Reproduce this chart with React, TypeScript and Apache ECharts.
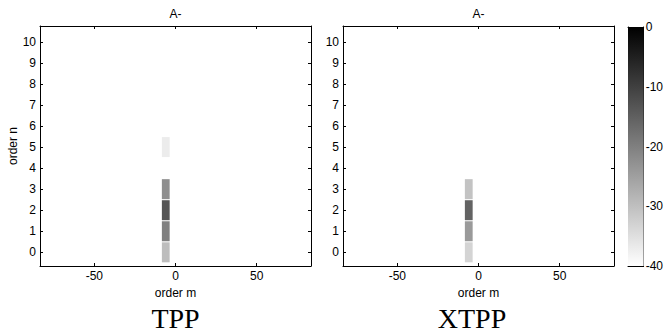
import React, { useEffect, useRef } from "react";
import * as echarts from "echarts";

// ---- data ----
const mTicks = [-50, 0, 50];
const nTicks = [0, 1, 2, 3, 4, 5, 6, 7, 8, 9, 10];
const colorbarTicksRange = [-40, 0];

const tppM = [-6, -6, -6, -6, -6];
const tppN = [0, 1, 2, 3, 5];
const tppValues = [-29.6, -20, -13.3, -22.3, -37];

const xtppM = [-6, -6, -6, -6];
const xtppN = [0, 1, 2, 3];
const xtppValues = [-33.2, -24.2, -15.5, -30.6];

const panelTitles = ["A-", "A-"];
const panelCaptions = ["TPP", "XTPP"];

// ---- layout constants ----
const M_MIN = -83.5;
const M_MAX = 83.5;
const N_MIN = -0.65;
const N_MAX = 10.75;
const CELL_W = 4.8;
const CELL_H = 0.95;

const SANS = "Liberation Sans, Arial, Helvetica, sans-serif";
const SERIF = "Liberation Serif, Times New Roman, serif";
const FS = 12;

function cellRender(params: any, api: any) {
  const m = api.value(0);
  const n = api.value(1);
  const p0 = api.coord([m - CELL_W / 2, n + CELL_H / 2]);
  const p1 = api.coord([m + CELL_W / 2, n - CELL_H / 2]);
  return {
    type: "rect",
    shape: { x: p0[0], y: p0[1], width: p1[0] - p0[0], height: p1[1] - p0[1] },
    style: { fill: api.visual("color") },
  };
}

function barRender(params: any, api: any) {
  const p0 = api.coord([0, colorbarTicksRange[1]]);
  const p1 = api.coord([1, colorbarTicksRange[0]]);
  return {
    type: "rect",
    shape: { x: p0[0], y: p0[1], width: p1[0] - p0[0], height: p1[1] - p0[1] },
    style: {
      fill: new echarts.graphic.LinearGradient(0, 0, 0, 1, [
        { offset: 0, color: "#000000" },
        { offset: 1, color: "#ffffff" },
      ]),
    },
  };
}

const axisLine = { show: true, onZero: false, lineStyle: { color: "#000", width: 1 } };

function mAxis(gridIndex: number, position: string, withLabels: boolean) {
  return {
    type: "value",
    gridIndex,
    position,
    min: M_MIN,
    max: M_MAX,
    axisLine,
    axisTick: { show: true, inside: true, length: 3, customValues: mTicks, lineStyle: { color: "#000" } },
    axisLabel: {
      show: withLabels,
      customValues: mTicks,
      color: "#000",
      fontSize: FS,
      fontFamily: SANS,
      margin: 4,
    },
    splitLine: { show: false },
    name: withLabels ? "order m" : "",
    nameLocation: "middle",
    nameGap: 17,
    nameTextStyle: { color: "#000", fontSize: FS, fontFamily: SANS },
  };
}

function nAxis(gridIndex: number, position: string, withLabels: boolean, withName: boolean) {
  return {
    type: "value",
    gridIndex,
    position,
    min: N_MIN,
    max: N_MAX,
    axisLine,
    axisTick: { show: true, inside: true, length: 3, customValues: nTicks, lineStyle: { color: "#000" } },
    axisLabel: {
      show: withLabels,
      customValues: nTicks,
      color: "#000",
      fontSize: FS,
      fontFamily: SANS,
      margin: 4,
    },
    splitLine: { show: false },
    name: withName ? "order n" : "",
    nameLocation: "middle",
    nameGap: 21,
    nameRotate: 90,
    nameTextStyle: { color: "#000", fontSize: FS, fontFamily: SANS },
  };
}

export default function App() {
  const ref = useRef<HTMLDivElement>(null);

  useEffect(() => {
    if (!ref.current) return;
    const chart = echarts.init(ref.current, null, { renderer: "svg" });

    const tppData = tppN.map((n, i) => [tppM[i], n, tppValues[i]]);
    const xtppData = xtppN.map((n, i) => [xtppM[i], n, xtppValues[i]]);

    const textStyle = (size: number, family: string) => ({
      align: "center", verticalAlign: "middle", textAlign: "center", textVerticalAlign: "middle",
      fontSize: size, fontFamily: family, fill: "#000",
    });

    const option: any = {
      animation: false,
      backgroundColor: "#fff",
      grid: [
        { left: 40, top: 26, width: 271, height: 240 },
        { left: 343, top: 26, width: 271, height: 240 },
        { left: 628, top: 27, width: 16, height: 239 },
      ],
      xAxis: [
        mAxis(0, "bottom", true),
        mAxis(0, "top", false),
        mAxis(1, "bottom", true),
        mAxis(1, "top", false),
        {
          type: "value", gridIndex: 2, position: "bottom", min: 0, max: 1,
          axisLine, axisTick: { show: false }, axisLabel: { show: false }, splitLine: { show: false },
        },
        {
          type: "value", gridIndex: 2, position: "top", min: 0, max: 1,
          axisLine, axisTick: { show: false }, axisLabel: { show: false }, splitLine: { show: false },
        },
      ],
      yAxis: [
        nAxis(0, "left", true, true),
        nAxis(0, "right", false, false),
        nAxis(1, "left", true, false),
        nAxis(1, "right", false, false),
        {
          type: "value", gridIndex: 2, position: "left",
          min: colorbarTicksRange[0], max: colorbarTicksRange[1], interval: 10,
          axisLine, axisTick: { show: true, inside: true, length: 3, lineStyle: { color: "#000" } },
          axisLabel: { show: false }, splitLine: { show: false },
        },
        {
          type: "value", gridIndex: 2, position: "right",
          min: colorbarTicksRange[0], max: colorbarTicksRange[1], interval: 10,
          axisLine, axisTick: { show: true, inside: true, length: 3, lineStyle: { color: "#000" } },
          axisLabel: { show: true, color: "#000", fontSize: FS, fontFamily: SANS, margin: 2 },
          splitLine: { show: false },
        },
      ],
      visualMap: {
        show: false,
        type: "continuous",
        seriesIndex: [0, 1],
        dimension: 2,
        min: colorbarTicksRange[0],
        max: colorbarTicksRange[1],
        inRange: { color: ["#ffffff", "#000000"] },
      },
      series: [
        {
          type: "custom", xAxisIndex: 0, yAxisIndex: 0,
          renderItem: cellRender, encode: { x: 0, y: 1 }, data: tppData,
        },
        {
          type: "custom", xAxisIndex: 2, yAxisIndex: 2,
          renderItem: cellRender, encode: { x: 0, y: 1 }, data: xtppData,
        },
        {
          type: "custom", xAxisIndex: 4, yAxisIndex: 4,
          renderItem: barRender, encode: { x: 0, y: 1 }, data: [[0.5, colorbarTicksRange[1]]],
          clip: false,
        },
      ],
      graphic: [
        { type: "text", x: 175.5, y: 14, style: { text: panelTitles[0], ...textStyle(FS, SANS) } },
        { type: "text", x: 478.5, y: 14, style: { text: panelTitles[1], ...textStyle(FS, SANS) } },
        { type: "text", x: 175.5, y: 318, style: { text: panelCaptions[0], ...textStyle(28, SERIF) } },
        { type: "text", x: 472, y: 318, style: { text: panelCaptions[1], ...textStyle(28, SERIF) } },
      ],
    };

    chart.setOption(option);
    return () => chart.dispose();
  }, []);

  return (
    <div
      ref={ref}
      style={{ position: "absolute", left: 0, top: 0, width: 666, height: 335 }}
    />
  );
}
